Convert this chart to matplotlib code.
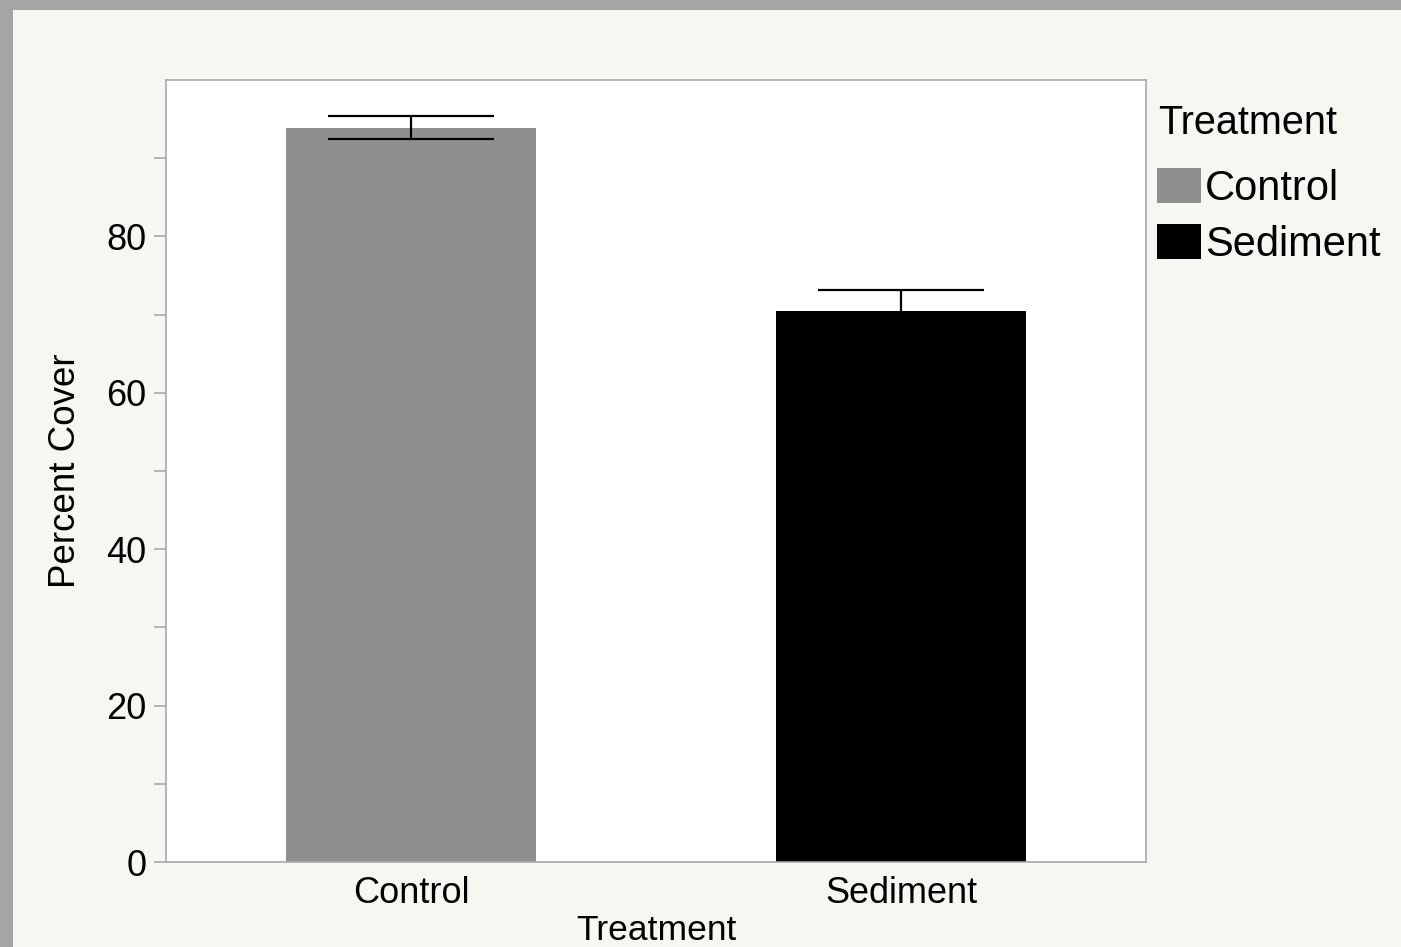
import matplotlib.pyplot as plt
from matplotlib.patches import Rectangle

# Mean percent cover per treatment, with standard error
treatments = ['Control', 'Sediment']
mean_cover = [93.9, 70.4]
se_cover = [1.5, 2.8]
bar_colors = ['#8f8f8f', '#000000']

plt.rcParams['font.family'] = ['Liberation Sans', 'DejaVu Sans']

fig = plt.figure(figsize=(14.01, 9.47), dpi=100)
fig.patch.set_facecolor('#f6f6f2')

# grey window frame along the top and left edges
fig.patches.append(Rectangle((0, 1 - 10 / 947), 1, 10 / 947, transform=fig.transFigure,
                             facecolor='#a5a5a5', edgecolor='none', zorder=0))
fig.patches.append(Rectangle((0, 0), 13 / 1401, 1, transform=fig.transFigure,
                             facecolor='#a5a5a5', edgecolor='none', zorder=0))

ax = fig.add_axes([166 / 1401, 1 - 862 / 947, 980 / 1401, 782 / 947])
ax.set_facecolor('white')

x = range(len(treatments))
bars = ax.bar(x, mean_cover, width=0.51, color=bar_colors, label=treatments, zorder=2)
ax.errorbar(x, mean_cover, yerr=se_cover, fmt='none', ecolor='black',
            elinewidth=1.6, capsize=60, capthick=1.6, zorder=3)

ax.set_xlim(-0.5, 1.5)
ax.set_ylim(0, 100)
ax.set_yticks([0, 20, 40, 60, 80])
ax.set_yticks([10, 30, 50, 70, 90], minor=True)
ax.set_xticks(list(x))
ax.set_xticklabels(treatments)

for side in ['left', 'right', 'top', 'bottom']:
    ax.spines[side].set_color('#a8a8a8')
    ax.spines[side].set_linewidth(1.2)

ax.tick_params(axis='y', which='both', length=9, color='#a8a8a8', width=1.2,
               labelsize=26, pad=5)
ax.tick_params(axis='x', length=0, labelsize=26, pad=10)

ax.set_ylabel('Percent Cover', fontsize=26.5, labelpad=17)
ax.set_xlabel('Treatment', fontsize=25.5, labelpad=2)

# legend title and entries placed to the right of the axes
fig.text(1158 / 1401, 1 - 104 / 947, 'Treatment', fontsize=28.5, va='top', ha='left')
leg = ax.legend(handles=bars, labels=treatments,
                loc='upper left', bbox_to_anchor=(1157 / 1401, 1 - 168 / 947),
                bbox_transform=fig.transFigure, frameon=False, fontsize=30,
                handlelength=1.05, handleheight=0.9, handletextpad=0.1,
                labelspacing=0.38, borderpad=0, borderaxespad=0)

fig.savefig('out.png', dpi=100, facecolor=fig.get_facecolor())
